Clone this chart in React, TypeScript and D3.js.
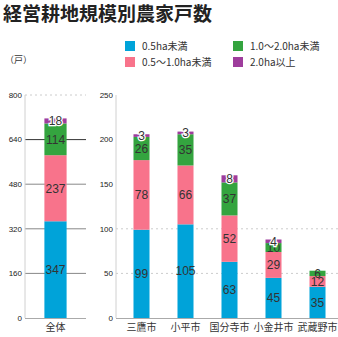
import React from "react";
import * as d3 from "d3";

const seriesNames = ["0.5ha未満", "0.5～1.0ha未満", "1.0～2.0ha未満", "2.0ha以上"];
const colors = ["#00a3d9", "#f8738b", "#34a43f", "#9e3d9c"];
const totalCat = ["全体"];
const totalVals = [[347], [237], [114], [18]];
const cities = ["三鷹市", "小平市", "国分寺市", "小金井市", "武蔵野市"];
const cityVals = [
  [99, 105, 63, 45, 35],
  [78, 66, 52, 29, 12],
  [26, 35, 37, 10, 6],
  [3, 3, 8, 4, 0],
];
const leftTicks = [0, 160, 320, 480, 640, 800];
const rightTicks = [0, 50, 100, 150, 200, 250];

const W = 338, H = 337;
const y0 = 318, yTop = 95;
const numFont = "'Liberation Sans', Arial, sans-serif";
const jpFont = "'Noto Sans CJK JP', sans-serif";

function stackData(cats: string[], vals: number[][]) {
  return cats.map((c, i) => {
    let acc = 0;
    return vals.map((s, k) => {
      const v = s[i];
      const seg = { cat: c, k, v, lo: acc, hi: acc + v };
      acc += v;
      return seg;
    });
  });
}

function Panel({ cats, vals, ticks, x0, x1, band, max, grid }: any) {
  const y = d3.scaleLinear().domain([0, max]).range([y0, yTop]);
  const x = d3.scaleBand<string>().domain(cats).range(band).paddingInner(0.636).paddingOuter(0.318);
  const stacks = stackData(cats, vals);
  return (
    <g>
      {ticks.slice(1).map((t: number) => {
        const g = grid(t);
        if (!g) return null;
        return (
          <line key={"g" + t} x1={x0} x2={x1} y1={y(t)} y2={y(t)} stroke={g.c} strokeWidth={1} strokeDasharray={g.dash} />
        );
      })}
      <line x1={x0} x2={x0} y1={yTop} y2={y0} stroke="#d0d0d0" />
      <line x1={x0} x2={x1} y1={y0 + 0.5} y2={y0 + 0.5} stroke="#aaa" />
      {ticks.map((t: number) => (
        <text key={"t" + t} x={x0 - 3} y={y(t)} dy="0.35em" textAnchor="end" fontSize={8} fontFamily={numFont} fill="#222">
          {t}
        </text>
      ))}
      {stacks.map((st, i) =>
        st.map((s) =>
          s.v > 0 ? (
            <rect key={i + "-" + s.k} x={x(s.cat)} width={x.bandwidth()} y={y(s.hi)} height={y(s.lo) - y(s.hi)} fill={colors[s.k]} />
          ) : null
        )
      )}
      {stacks.map((st, i) =>
        st.map((s) =>
          s.v > 0 ? (
            <text
              key={"l" + i + "-" + s.k}
              x={(x(s.cat) as number) + x.bandwidth() / 2}
              y={(y(s.lo) + y(s.hi)) / 2}
              dy="0.36em"
              textAnchor="middle"
              fontSize={12}
              fontFamily={numFont}
              fill="#333"
              stroke="#fff"
              strokeWidth={s.k === 3 ? 2.5 : 0}
              paintOrder="stroke"
            >
              {s.v}
            </text>
          ) : null
        )
      )}
      {cats.map((c: string) => (
        <text key={"c" + c} x={(x(c) as number) + x.bandwidth() / 2} y={327} dy="0.35em" textAnchor="middle" fontSize={10} fontFamily={jpFont} fill="#333">
          {c}
        </text>
      ))}
    </g>
  );
}

export default function App() {
  const legendPos = [
    [125, 41],
    [125, 57],
    [233, 41],
    [233, 57],
  ];
  return (
    <svg width={W} height={H} style={{ position: "absolute", left: 0, top: 0, background: "#fff" }}>
      <text x={3} y={21} fontSize={19} fontWeight="bold" fontFamily={jpFont} fill="#222">
        経営耕地規模別農家戸数
      </text>
      <text x={5} y={60} dy="0.35em" fontSize={9} fontFamily={jpFont} fill="#333">（戸）</text>
      {seriesNames.map((n, i) => (
        <g key={n}>
          <rect x={legendPos[i][0]} y={legendPos[i][1]} width={10} height={10} fill={colors[i]} />
          <text x={legendPos[i][0] + 17} y={legendPos[i][1] + 5} dy="0.35em" fontSize={10} fontFamily={jpFont} fill="#333">
            {n}
          </text>
        </g>
      ))}
      <Panel
        cats={totalCat}
        vals={totalVals}
        ticks={leftTicks}
        max={800}
        x0={25}
        x1={86}
        band={[25, 86]}
        grid={(t: number) => (t === 800 ? { c: "#ccc", dash: "2,3" } : { c: t === 640 ? "#333" : "#888", dash: null })}
      />
      <Panel
        cats={cities}
        vals={cityVals}
        ticks={rightTicks}
        max={250}
        x0={116}
        x1={338}
        band={[119.5, 339.5]}
        grid={(t: number) => (t === 50 || t === 100 ? { c: "#ccc", dash: "2,3" } : null)}
      />
    </svg>
  );
}
